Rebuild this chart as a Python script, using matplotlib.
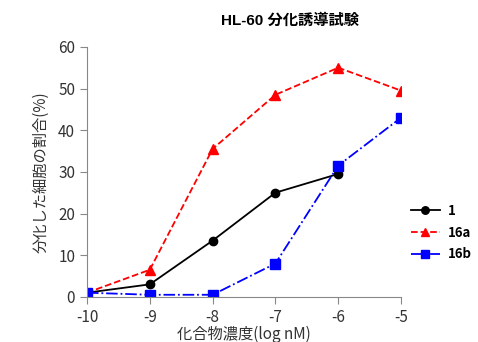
import matplotlib
matplotlib.use('Agg')
import matplotlib.pyplot as plt

# data
conc = [-10, -9, -8, -7, -6, -5]
s1   = [1.0, 3.0, 13.5, 25.0, 29.5]
s16a = [1.0, 6.5, 35.5, 48.5, 55.0, 49.5]
s16b = [1.0, 0.5, 0.5, 8.0, 31.5, 43.0]

JP = ['Noto Sans CJK JP', 'DejaVu Sans']
plt.rcParams['font.family'] = JP
plt.rcParams['axes.unicode_minus'] = False

fig = plt.figure(figsize=(4.78, 3.42), dpi=100)
ax = fig.add_axes([0.182, 0.132, 0.657, 0.731])

ax.plot(conc[:5], s1, color='black', lw=1.3, ls='-', marker='o', ms=6, label='1')
ax.plot(conc, s16a, color='red', lw=1.3, ls='--', marker='^', ms=7, label='16a')
ax.plot(conc, s16b, color='blue', lw=1.3, ls='-.', marker='s', ms=7, label='16b')

ax.set_xlim(-10, -5)
ax.set_ylim(0, 60)
ax.set_xticks(conc)
ax.set_yticks(range(0, 61, 10))
for s in ['top', 'right']:
    ax.spines[s].set_visible(False)
for s in ['left', 'bottom']:
    ax.spines[s].set_color('#888888')
ax.tick_params(colors='#888888', labelcolor='#333333', labelsize=11, length=5)
ax.set_xlabel('化合物濃度(log nM)', fontsize=11, color='#333333', labelpad=0)
ax.set_ylabel('分化した細胞の割合(%)', fontsize=11, color='#333333', labelpad=6)

fig.text(0.607, 0.94, 'HL-60 分化誘導試験', ha='center', va='center',
         fontsize=11, fontweight='bold', family=['Liberation Sans', 'Noto Sans CJK JP'])

leg = fig.legend(loc='center left', bbox_to_anchor=(0.848, 0.32), frameon=False,
                 prop={'family': JP, 'weight': 'bold', 'size': 9.5},
                 handlelength=2.2, handletextpad=0.6, labelspacing=0.6,
                 borderaxespad=0, markerscale=0.9)

fig.savefig('out.png', dpi=100, facecolor='white')
